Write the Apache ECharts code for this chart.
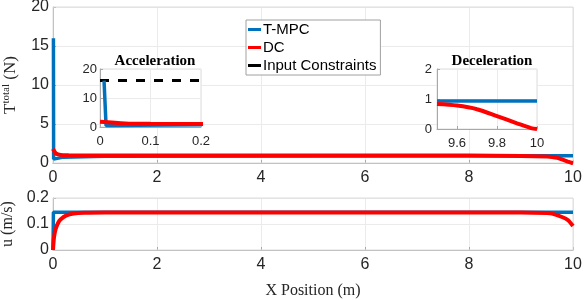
<!DOCTYPE html>
<html>
<head>
<meta charset="utf-8">
<script src="https://cdn.jsdelivr.net/npm/echarts@6/dist/echarts.min.js"></script>
<style>
  html, body { margin: 0; padding: 0; background: #fff; }
  #chart { width: 584px; height: 300px; }
</style>
</head>
<body>
<div id="chart"></div>
<script>
// thrust T_total (N) vs X position (m)
const tmpcThrustX = [0.008, 0.012, 0.2, 1, 5, 10];
const tmpcThrustY = [16, 0.5, 0.75, 0.85, 0.9, 0.93];
const dcThrustX = [0, 0.05, 0.1, 0.2, 0.3, 0.5, 1, 2, 4, 6, 8, 9, 9.5, 9.6, 9.7, 9.8, 9.9, 9.97, 10];
const dcThrustY = [1.8, 1.25, 1.1, 1.0, 0.98, 0.97, 0.97, 0.97, 0.97, 0.96, 0.95, 0.9, 0.83, 0.78, 0.66, 0.43, 0.19, 0.03, 0];
const constraintX = [0, 0.2];
const constraintY = [16, 16];
const decelTicks = [9.6, 9.8, 10];

// velocity u (m/s) vs X position (m)
const tmpcSpeedX = [0, 0.008, 10];
const tmpcSpeedY = [0, 0.145, 0.145];
const dcSpeedX = [0, 0.02, 0.05, 0.1, 0.15, 0.25, 0.4, 0.6, 1, 9, 9.5, 9.6, 9.8, 9.9, 10];
const dcSpeedY = [0, 0.05, 0.08, 0.105, 0.118, 0.132, 0.14, 0.143, 0.144, 0.144, 0.142, 0.14, 0.126, 0.115, 0.092];

const pairs = (xs, ys) => xs.map((x, i) => [x, ys[i]]);

const blue = '#0072BD';
const red = '#FF0000';
const tickColor = '#262626';
const sans = 'Liberation Sans';
const serif = 'Liberation Serif';
const blueWidth = 3.5;
const redWidth = 4;

function axisBase(opt) {
  return Object.assign({
    type: 'value',
    axisLine: { show: true, lineStyle: { color: '#a8a8a8', width: 1 } },
    axisTick: { show: true, inside: true, length: 3, lineStyle: { color: '#a8a8a8' } },
    splitLine: { show: true, lineStyle: { color: '#ebebeb', width: 1 } },
    axisLabel: { color: tickColor, fontFamily: sans, fontSize: 16 },
  }, opt);
}

const chart = echarts.init(document.getElementById('chart'));
const option = {
  animation: false,
  backgroundColor: '#fff',
  title: [
    { text: 'Acceleration', left: 150, top: 49, textAlign: 'center',
      textStyle: { fontFamily: serif, fontWeight: 'bold', fontSize: 15, color: '#000' } },
    { text: 'Deceleration', left: 487, top: 49, textAlign: 'center',
      textStyle: { fontFamily: serif, fontWeight: 'bold', fontSize: 15, color: '#000' } },
  ],
  legend: {
    orient: 'vertical',
    left: 246,
    top: 20,
    selectedMode: false,
    icon: 'rect',
    itemWidth: 13,
    itemHeight: 3,
    itemGap: 3,
    padding: [2, 4, 2, 2],
    backgroundColor: '#fff',
    borderColor: '#a0a0a0',
    borderWidth: 1,
    textStyle: { fontFamily: sans, fontSize: 15, color: '#000', padding: [0, 0, 0, -3] },
    data: ['T-MPC', 'DC', 'Input Constraints'],
  },
  grid: [
    { left: 53, right: 11, top: 7, height: 156, show: true, borderColor: '#dcdcdc', z: 1, outerBoundsMode: 'none' },
    { left: 100, top: 69, width: 101, height: 58, show: true, backgroundColor: '#fff', borderColor: '#dcdcdc', z: 2, outerBoundsMode: 'none' },
    { left: 437, top: 69, width: 100, height: 60, show: true, backgroundColor: '#fff', borderColor: '#dcdcdc', z: 2, outerBoundsMode: 'none' },
    { left: 53, right: 11, top: 198, height: 52, show: true, borderColor: '#dcdcdc', z: 1, outerBoundsMode: 'none' },
  ],
  xAxis: [
    axisBase({ gridIndex: 0, min: 0, max: 10, interval: 2, axisLabel: { color: tickColor, fontFamily: sans, fontSize: 16, margin: 7 } }),
    axisBase({ gridIndex: 1, min: 0, max: 0.2, interval: 0.1, z: 3,
      axisLabel: { color: tickColor, fontFamily: sans, fontSize: 13, margin: 8 } }),
    axisBase({ gridIndex: 2, min: 9.5, max: 10, z: 3,
      axisTick: { show: true, inside: true, length: 3, lineStyle: { color: '#a8a8a8' }, customValues: decelTicks },
      axisLabel: { color: tickColor, fontFamily: sans, fontSize: 13, margin: 8, customValues: decelTicks,
        formatter: (v) => String(+v.toFixed(1)) } }),
    axisBase({ gridIndex: 3, min: 0, max: 10, interval: 2,
      axisLabel: { color: tickColor, fontFamily: sans, fontSize: 16, margin: 7 },
      name: 'X Position (m)', nameLocation: 'middle', nameGap: 33,
      nameTextStyle: { fontFamily: serif, fontSize: 16, color: tickColor } }),
  ],
  yAxis: [
    axisBase({ gridIndex: 0, min: 0, max: 20, interval: 5,
      axisLabel: { color: tickColor, fontFamily: sans, fontSize: 16, margin: 4 },
      name: '{t|T}{s|total}{t| (N)}', nameLocation: 'middle', nameGap: 26,
      nameTextStyle: {
        color: tickColor,
        rich: {
          t: { fontFamily: serif, fontSize: 17, color: tickColor, lineHeight: 20 },
          s: { fontFamily: serif, fontSize: 11, color: tickColor, verticalAlign: 'top', lineHeight: 20, padding: [0, 0, 9, 0] },
        },
      } }),
    axisBase({ gridIndex: 1, min: 0, max: 20, interval: 10, z: 3,
      axisLabel: { color: tickColor, fontFamily: sans, fontSize: 13, margin: 3 } }),
    axisBase({ gridIndex: 2, min: 0, max: 2, interval: 1, z: 3,
      axisLabel: { color: tickColor, fontFamily: sans, fontSize: 13, margin: 5 } }),
    axisBase({ gridIndex: 3, min: 0, max: 0.2, interval: 0.1,
      axisLabel: { color: tickColor, fontFamily: sans, fontSize: 16, margin: 4 },
      name: 'u (m/s)', nameLocation: 'middle', nameGap: 31,
      nameTextStyle: { fontFamily: serif, fontSize: 16, color: tickColor } }),
  ],
  series: [
    // main thrust plot
    { name: 'T-MPC', type: 'line', xAxisIndex: 0, yAxisIndex: 0, showSymbol: false, symbol: 'none',
      lineStyle: { color: blue, width: blueWidth }, itemStyle: { color: blue }, data: pairs(tmpcThrustX, tmpcThrustY) },
    { name: 'DC', type: 'line', xAxisIndex: 0, yAxisIndex: 0, showSymbol: false, symbol: 'none', smooth: 0.3,
      lineStyle: { color: red, width: redWidth }, itemStyle: { color: red }, data: pairs(dcThrustX, dcThrustY) },
    { name: 'Input Constraints', type: 'line', xAxisIndex: 1, yAxisIndex: 1, showSymbol: false, symbol: 'none', z: 4,
      lineStyle: { color: '#000', width: 3, type: [9, 9] }, itemStyle: { color: '#000' }, data: pairs(constraintX, constraintY) },
    // acceleration inset
    { name: 'T-MPC', type: 'line', xAxisIndex: 1, yAxisIndex: 1, showSymbol: false, symbol: 'none', z: 4,
      lineStyle: { color: blue, width: blueWidth }, data: pairs(tmpcThrustX, tmpcThrustY).filter((p) => p[0] <= 0.3) },
    { name: 'DC', type: 'line', xAxisIndex: 1, yAxisIndex: 1, showSymbol: false, symbol: 'none', z: 4, smooth: 0.3,
      lineStyle: { color: red, width: redWidth }, data: pairs(dcThrustX, dcThrustY).filter((p) => p[0] <= 0.3) },
    // deceleration inset
    { name: 'T-MPC', type: 'line', xAxisIndex: 2, yAxisIndex: 2, showSymbol: false, symbol: 'none', z: 4,
      lineStyle: { color: blue, width: blueWidth }, data: [[9.5, tmpcThrustY[tmpcThrustY.length - 1]], [10, tmpcThrustY[tmpcThrustY.length - 1]]] },
    { name: 'DC', type: 'line', xAxisIndex: 2, yAxisIndex: 2, showSymbol: false, symbol: 'none', z: 4, smooth: 0.3,
      lineStyle: { color: red, width: redWidth }, data: pairs(dcThrustX, dcThrustY).filter((p) => p[0] >= 9.5) },
    // speed plot
    { name: 'T-MPC', type: 'line', xAxisIndex: 3, yAxisIndex: 3, showSymbol: false, symbol: 'none',
      lineStyle: { color: blue, width: blueWidth }, data: pairs(tmpcSpeedX, tmpcSpeedY) },
    { name: 'DC', type: 'line', xAxisIndex: 3, yAxisIndex: 3, showSymbol: false, symbol: 'none', smooth: 0.3,
      lineStyle: { color: red, width: redWidth }, data: pairs(dcSpeedX, dcSpeedY) },
  ],
};
chart.setOption(option);
</script>
</body>
</html>
